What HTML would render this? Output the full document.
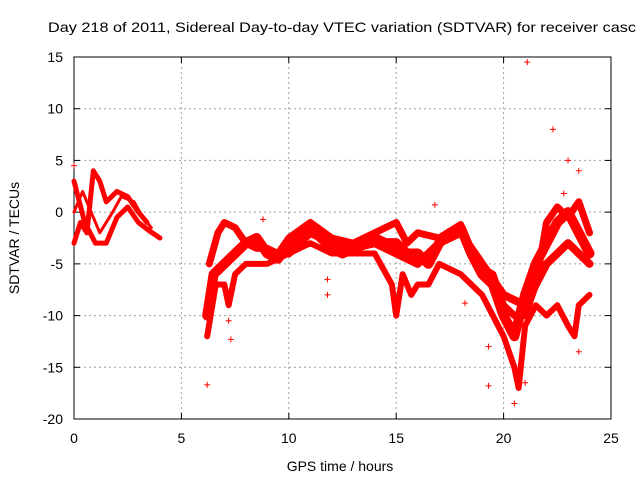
<!DOCTYPE html>
<html><head><meta charset="utf-8"><style>
body{margin:0;background:#fff}
svg{display:block;font-family:"Liberation Sans",sans-serif}
</style></head><body>
<svg id="chart" width="640" height="480">
<text x="48" y="32" font-size="14" textLength="588" lengthAdjust="spacingAndGlyphs">Day 218 of 2011, Sidereal Day-to-day VTEC variation (SDTVAR) for receiver casc</text>
<g id="grid"></g><g id="axes"></g><g id="marks"></g>
<text x="340" y="471" font-size="14" text-anchor="middle">GPS time / hours</text>
<text transform="translate(19,238) rotate(-90)" font-size="14" text-anchor="middle">SDTVAR / TECUs</text>
</svg>
<script>
const xTicks=[0,5,10,15,20,25];
const yTicks=[15,10,5,0,-5,-10,-15,-20];
const trackEarlyA=[[0,-3],[0.3,-1],[0.6,-2],[0.9,4],[1.2,3],[1.5,1],[2,2],[2.5,1.5],[3,0],[3.4,-1]];
const trackEarlyB=[[0,3],[0.5,-1],[1,-3],[1.5,-3],[2,-0.5],[2.5,0.5],[3,-1],[3.5,-1.8],[4,-2.5]];
const trackEarlyC=[[0,0],[0.4,2],[0.8,0],[1.2,-2],[1.8,0],[2.2,1.5],[2.8,1],[3.2,-0.5],[3.6,-1.5]];
const trackMain=[[6.2,-10],[6.5,-6],[7,-5],[7.5,-4],[8,-3],[8.5,-2.5],[9,-4],[9.5,-4.5],[10,-3],[10.5,-2],[11,-1.5],[11.5,-2.5],[12,-3.5],[12.5,-4],[13,-3.5],[13.5,-3],[14,-2.5],[14.5,-3],[15,-3],[15.5,-4],[16,-4],[16.5,-5],[17,-3],[17.5,-2],[18,-1.5],[18.5,-4],[19,-6],[19.5,-7],[20,-10],[20.5,-12],[21,-8],[21.5,-5],[22,-3],[22.5,-1],[23,0],[23.5,-2],[24,-4]];
const trackUpper=[[6.3,-5],[6.7,-2],[7,-1],[7.5,-1.5],[8,-3],[8.5,-3.5],[9,-3.5],[9.5,-4],[10,-2.5],[11,-1],[12,-2.5],[13,-3],[14,-2],[15,-1],[15.5,-3],[16,-2],[17,-2.5],[18,-1.2],[18.7,-5],[19.5,-6],[20,-9],[20.5,-10],[21,-10],[21.5,-7],[22,-1],[22.5,0.5],[23,-0.5],[23.5,1],[24,-2]];
const trackLower=[[6.2,-12],[6.6,-7],[7,-7],[7.2,-9],[7.5,-6],[8,-5],[9,-5],[10,-4],[11,-3],[12,-4],[13,-4],[14,-4],[14.8,-7],[15,-10],[15.3,-6],[15.7,-8],[16,-7],[16.5,-7],[17,-5],[18,-6],[19,-8],[19.5,-10],[20,-12],[20.5,-15],[20.7,-17],[21,-11],[21.5,-9],[22,-10],[22.5,-9],[23,-11],[23.3,-12],[23.5,-9],[24,-8]];
const trackMid=[[10,-4],[11,-2],[12,-3],[13,-3.5],[14,-3],[15,-4],[16,-5],[17,-3],[18,-2],[19,-5],[20,-8],[21,-9],[22,-5],[23,-3],[24,-5]];
const outliers=[[21.1,14.5],[22.3,8],[23,5],[23.5,4],[16.8,0.7],[8.8,-0.7],[11.8,-6.5],[11.8,-8],[6.2,-16.7],[7.3,-12.3],[7.2,-10.5],[19.3,-13],[19.3,-16.8],[20.5,-18.5],[21,-16.5],[18.2,-8.8],[23.5,-13.5],[0,4.5],[22.8,1.8],[22.5,-9]];
const X0=74,X1=611,Y0=419,Y1=57;
const xs=v=>X0+(v-0)/(25-0)*(X1-X0);
const ys=v=>Y0-(v+20)/35*(Y0-Y1);
const NS="http://www.w3.org/2000/svg";
function mk(t,a,p){const e=document.createElementNS(NS,t);for(const k in a)e.setAttribute(k,a[k]);p.appendChild(e);return e;}
const grid=document.getElementById('grid'),axes=document.getElementById('axes'),marks=document.getElementById('marks');
mk('rect',{x:X0,y:Y1,width:X1-X0,height:Y0-Y1,fill:'none',stroke:'#000','stroke-width':1},axes);
xTicks.forEach(t=>{const x=xs(t);
 if(t>0&&t<25){const g=mk('line',{x1:x,x2:x,y1:Y0,y2:Y1,stroke:'#a0a0a0','stroke-dasharray':'2,3'},grid);}
 mk('line',{x1:x,x2:x,y1:Y0,y2:Y0-6,stroke:'#000'},axes);mk('line',{x1:x,x2:x,y1:Y1,y2:Y1+6,stroke:'#000'},axes);
 const l=mk('text',{x:x,y:443,'font-size':14,'text-anchor':'middle'},axes);l.textContent=t;
 });
yTicks.forEach(t=>{const y=ys(t);
 if(t>-20&&t<15){const g=mk('line',{x1:X0,x2:X1,y1:y,y2:y,stroke:'#a0a0a0','stroke-dasharray':'2,3'},grid);}
 mk('line',{x1:X0,x2:X0+6,y1:y,y2:y,stroke:'#000'},axes);mk('line',{x1:X1,x2:X1-6,y1:y,y2:y,stroke:'#000'},axes);
 const l=mk('text',{x:63,y:y+5,'font-size':14,'text-anchor':'end'},axes);l.textContent=t;
 });
function band(arr,name,w){
 const p=mk('polyline',{points:arr.map(d=>xs(d[0])+','+ys(d[1])).join(' '),fill:'none',stroke:'#f00','stroke-width':w,'stroke-linejoin':'round','stroke-linecap':'round'},marks);
 }
band(trackEarlyA,'early-track-a',5);band(trackEarlyB,'early-track-b',5);band(trackEarlyC,'early-track-c',3);
band(trackMain,'main-track',10);band(trackUpper,'upper-track',7);band(trackLower,'lower-track',6);band(trackMid,'mid-track',8);
outliers.forEach(d=>{const x=xs(d[0]),y=ys(d[1]);
 const p=mk('path',{d:`M${x-3},${y}H${x+3}M${x},${y-3}V${y+3}`,stroke:'#f00','stroke-width':1},marks);
 });
</script>
</body></html>
